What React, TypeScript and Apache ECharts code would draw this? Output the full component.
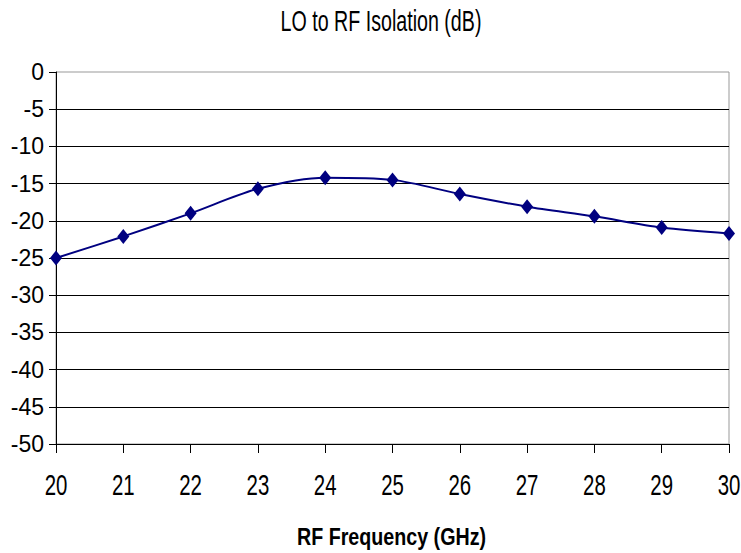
import React, { useEffect, useRef } from "react";
import * as echarts from "echarts";

const freqs = [20, 21, 22, 23, 24, 25, 26, 27, 28, 29, 30];
const isolation = [-25, -22.1, -19, -15.7, -14.2, -14.5, -16.4, -18.1, -19.4, -20.9, -21.7];
const xTickLabels = ["20", "21", "22", "23", "24", "25", "26", "27", "28", "29", "30"];
const titleText = "LO to RF Isolation (dB)";
const xTitle = "RF Frequency (GHz)";

const FONT = "'Liberation Sans', Arial, sans-serif";

export default function App() {
  const ref = useRef<HTMLDivElement>(null);
  useEffect(() => {
    if (!ref.current) return;
    const chart = echarts.init(ref.current, undefined, { renderer: "svg" });
    chart.setOption({
      animation: false,
      backgroundColor: "#fff",
      grid: {
        left: 56,
        right: 12,
        top: 72,
        bottom: 109,
        show: true,
        borderColor: "#999",
        borderWidth: 1,
      },
      xAxis: {
        type: "value",
        min: 20,
        max: 30,
        interval: 1,
        axisLine: { show: true, onZero: false, lineStyle: { color: "#000", width: 1 } },
        axisTick: { show: true, length: 9, inside: false, lineStyle: { color: "#000" } },
        axisLabel: { show: false },
        splitLine: { show: false },
      },
      yAxis: {
        type: "value",
        min: -50,
        max: 0,
        interval: 5,
        axisLine: { show: true, onZero: false, lineStyle: { color: "#000", width: 1 } },
        axisTick: { show: true, length: 7, inside: false, lineStyle: { color: "#000" } },
        axisLabel: { fontFamily: FONT, fontSize: 23, color: "#000", margin: 12 },
        splitLine: { show: true, showMaxLine: false, lineStyle: { color: "#000", width: 1 } },
      },
      series: [
        {
          type: "line",
          data: freqs.map((f, i) => [f, isolation[i]]),
          smooth: 0.3,
          symbol: "diamond",
          symbolSize: [12, 15],
          itemStyle: { color: "#000080" },
          lineStyle: { color: "#000080", width: 2 },
        },
      ],
    });

    const labelGraphics = freqs.map((v, i) => {
      const p = chart.convertToPixel({ gridIndex: 0 }, [v, -50]) as number[];
      return {
        type: "text",
        x: p[0],
        y: p[1] + 40,
        scaleX: 0.68,
        style: {
          text: xTickLabels[i],
          fontFamily: FONT,
          fontSize: 30,
          fill: "#000",
          align: "center",
          verticalAlign: "middle",
        },
      };
    });
    const left = chart.convertToPixel({ gridIndex: 0 }, [20, -50]) as number[];
    const right = chart.convertToPixel({ gridIndex: 0 }, [30, -50]) as number[];
    const midX = (left[0] + right[0]) / 2;

    chart.setOption({
      graphic: [
        ...labelGraphics,
        {
          type: "text",
          x: 381,
          y: 20,
          scaleX: 0.655,
          style: {
            text: titleText,
            fontFamily: FONT,
            fontSize: 30,
            fill: "#000",
            align: "center",
            verticalAlign: "middle",
          },
        },
        {
          type: "text",
          x: midX - 1,
          y: left[1] + 93,
          scaleX: 0.82,
          style: {
            text: xTitle,
            fontFamily: FONT,
            fontSize: 24,
            fontWeight: "bold",
            fill: "#000",
            align: "center",
            verticalAlign: "middle",
          },
        },
      ],
    });
    return () => chart.dispose();
  }, []);
  return <div ref={ref} style={{ width: 741, height: 553, position: "absolute", left: 0, top: 0 }} />;
}
